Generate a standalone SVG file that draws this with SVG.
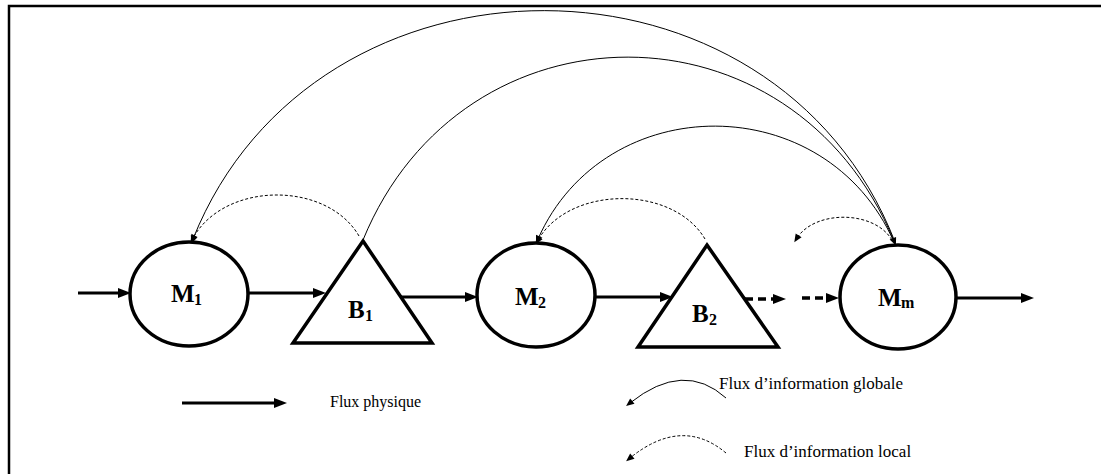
<svg xmlns="http://www.w3.org/2000/svg" width="1101" height="474" viewBox="0 0 1101 474">
<style>
.node{fill:#fff;stroke:#000;stroke-width:3.5}
.phys{fill:none;stroke:#000;stroke-width:3}
.dot{fill:none;stroke:#000;stroke-width:3.5;stroke-dasharray:8,5}
.glob{fill:none;stroke:#000;stroke-width:1}
.loc{fill:none;stroke:#000;stroke-width:1;stroke-dasharray:3,2}
.lbl{font-family:"Liberation Serif","Times New Roman",serif;font-weight:bold;font-size:25px;fill:#000}
.sub{font-size:16px}
.leg{font-family:"Liberation Serif","Times New Roman",serif;font-size:17px;fill:#000}
</style>
<defs>
<marker id="big" markerUnits="userSpaceOnUse" markerWidth="14" markerHeight="12" refX="6" refY="5" orient="auto" overflow="visible">
<path d="M0,0 L13,5 L0,10 z" fill="#000"/>
</marker>
<marker id="small" markerUnits="userSpaceOnUse" markerWidth="10" markerHeight="8" refX="3" refY="3.5" orient="auto" overflow="visible">
<path d="M0,0 L8,3.5 L0,7 z" fill="#000"/>
</marker>
</defs>
<rect width="1101" height="474" fill="#fff"/>
<path d="M9,474 V6 H1101" fill="none" stroke="#000" stroke-width="2.5"/>

<g id="connectors">
<line class="phys" x1="78" y1="293" x2="124" y2="293" marker-end="url(#big)"/>
<line class="phys" x1="248" y1="293" x2="319" y2="293" marker-end="url(#big)"/>
<line class="phys" x1="400" y1="297" x2="471" y2="297" marker-end="url(#big)"/>
<line class="phys" x1="595" y1="297" x2="666" y2="297" marker-end="url(#big)"/>
<line class="dot" x1="745" y1="299" x2="779" y2="299" marker-end="url(#big)"/>
<line class="dot" x1="802" y1="298" x2="832" y2="298" marker-end="url(#big)"/>
<line class="phys" x1="957" y1="298" x2="1027" y2="298" marker-end="url(#big)"/>
<path class="glob" d="M895,242 C775,-66 315,-66 193,239" marker-end="url(#small)"/>
<path class="glob" d="M363,240 C463,-4 793,-4 894,241" marker-end="url(#small)"/>
<path class="glob" d="M894,242 C826,88 605,88 538,239" marker-end="url(#small)"/>
<path class="loc" d="M359,236 C327,181 225,181 193,238" marker-end="url(#small)"/>
<path class="loc" d="M705,239 C673,185 570,185 538,240" marker-end="url(#small)"/>
<path class="loc" d="M892,240 C874,210 815,210 797,238" marker-end="url(#small)"/>
</g>

<g id="M1">
<ellipse class="node" cx="189" cy="294" rx="59" ry="52"/>
<text class="lbl" x="171" y="302">M<tspan class="sub" x="194" y="305">1</tspan></text>
</g>
<g id="B1">
<polygon class="node" points="363,241 432,343 293,343"/>
<text class="lbl" x="348" y="318">B<tspan class="sub" x="365" y="321">1</tspan></text>
</g>
<g id="M2">
<ellipse class="node" cx="536" cy="295" rx="59" ry="52"/>
<text class="lbl" x="515" y="305">M<tspan class="sub" x="538" y="308">2</tspan></text>
</g>
<g id="B2">
<polygon class="node" points="707,245 778,347 638,347"/>
<text class="lbl" x="692" y="322">B<tspan class="sub" x="709" y="325">2</tspan></text>
</g>
<g id="Mm">
<ellipse class="node" cx="898" cy="297" rx="58" ry="52"/>
<text class="lbl" x="878" y="306">M<tspan class="sub" x="901" y="308">m</tspan></text>
</g>

<g id="legend">
<line class="phys" x1="182" y1="403" x2="280" y2="403" marker-end="url(#big)"/>
<text class="leg" x="330" y="407" style="font-size:16px">Flux physique</text>
<path class="glob" d="M726,398 Q684,360 630,403" marker-end="url(#small)"/>
<text class="leg" x="719" y="389">Flux d’information globale</text>
<path class="loc" d="M726,453 Q682,416 630,458" marker-end="url(#small)"/>
<text class="leg" x="744" y="457">Flux d’information local</text>
</g>
</svg>
